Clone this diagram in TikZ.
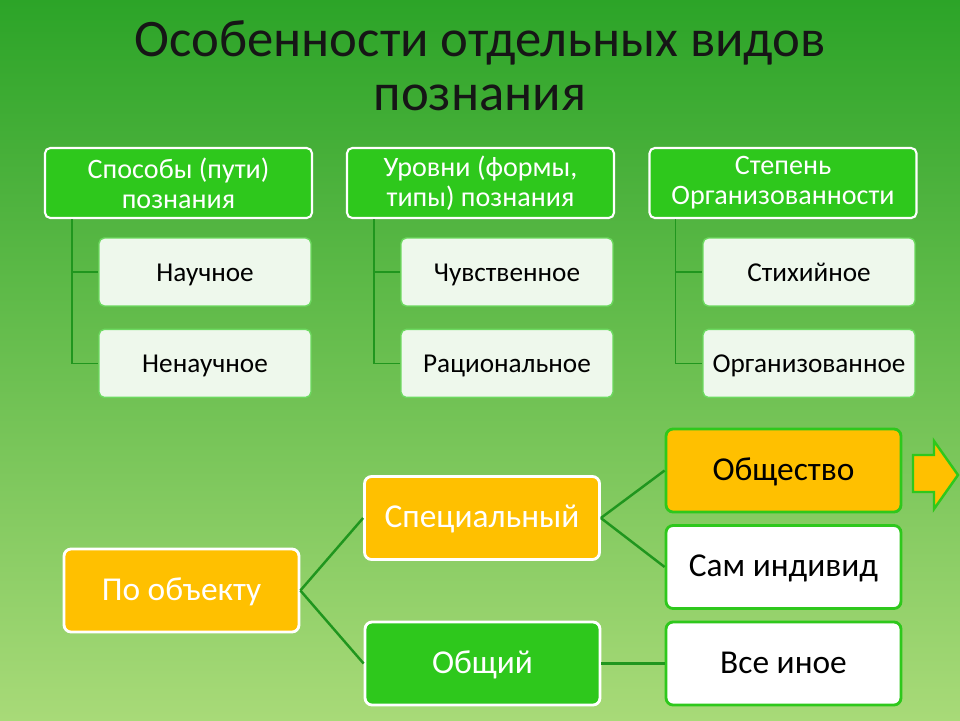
\documentclass[tikz,border=0pt]{standalone}
\usepackage{fontspec}
\setmainfont{Carlito}
\usepackage{xcolor}
\usetikzlibrary{positioning,calc}
\definecolor{bgtop}{RGB}{44,164,40}
\definecolor{bgbottom}{RGB}{168,218,120}
\definecolor{headgreen}{RGB}{46,200,28}
\definecolor{leaffill}{RGB}{238,248,236}
\definecolor{treegreen}{RGB}{32,150,30}
\definecolor{amber}{RGB}{255,192,0}
\definecolor{titleink}{RGB}{22,22,22}

\tikzset{
  headbox/.style={draw=white, line width=1.2pt, rounded corners=3pt, fill=headgreen, text=white,
    minimum width=5.34cm, minimum height=1.4cm, align=center, font=\fontsize{16}{17}\selectfont},
  leafbox/.style={draw=headgreen!70, line width=0.8pt, rounded corners=3pt, fill=leaffill, text=black,
    minimum width=4.24cm, minimum height=1.36cm, text height=2.4ex, text depth=0.2ex,
    font=\fontsize{15.5}{18}\selectfont},
  bigbox/.style={line width=1.6pt, rounded corners=4pt, minimum width=4.7cm, minimum height=1.66cm,
    text height=2.5ex, text depth=0.2ex, font=\fontsize{19}{22}\selectfont},
  warmbox/.style={bigbox, draw=white, fill=amber, text=white},
  greenbox/.style={bigbox, draw=white, fill=headgreen, text=white},
  endbox/.style={bigbox, draw=headgreen, fill=white, text=black},
  treeline/.style={draw=treegreen, line width=1pt},
  branch/.style={draw=treegreen, line width=1.4pt}
}

\begin{document}
\begin{tikzpicture}[x=0.02cm, y=-0.02cm]
  \useasboundingbox (0,0) rectangle (960,720);
  \shade[top color=bgtop, bottom color=bgbottom] (0,0) rectangle (960,720);

  % title
  \node[text=titleink, align=center, font=\fontsize{30}{31}\selectfont] (title) at (480,66)
    {Особенности отдельных видов\\познания};

  % three groups with their children
  \node[headbox] (ways) at (178.5,183) {Способы (пути)\\познания};
  \node[leafbox] (sci) at (205,272) {Научное};
  \node[leafbox, below=0.44cm of sci] (nonsci) {Ненаучное};

  \node[headbox] (levels) at (480.5,183) {Уровни (формы,\\типы) познания};
  \node[leafbox] (sense) at (507,272) {Чувственное};
  \node[leafbox, below=0.44cm of sense] (ratio) {Рациональное};

  \node[headbox] (degree) at (783,183) {Степень\\Организованности};
  \node[leafbox] (spont) at (809,272) {Стихийное};
  \node[leafbox, below=0.44cm of spont] (organ) {Организованное};

  \draw[treeline] ($(ways.south west)+(28,0)$) |- (sci.west);
  \draw[treeline] ($(ways.south west)+(28,0)$) |- (nonsci.west);
  \draw[treeline] ($(levels.south west)+(28,0)$) |- (sense.west);
  \draw[treeline] ($(levels.south west)+(28,0)$) |- (ratio.west);
  \draw[treeline] ($(degree.south west)+(27,0)$) |- (spont.west);
  \draw[treeline] ($(degree.south west)+(27,0)$) |- (organ.west);

  % by object
  \node[warmbox] (obj) at (181.5,590.5) {По объекту};
  \node[warmbox] (spec) at (482,518) {Специальный};
  \node[greenbox] (gen) at (482.5,663.5) {Общий};
  \node[endbox, fill=amber] (soc) at (783.5,470.5) {Общество};
  \node[endbox] (ind) at (783.5,567) {Сам индивид};
  \node[endbox] (other) at (783.5,663.5) {Все иное};

  \draw[branch] (obj.east) -- (spec.west);
  \draw[branch] (obj.east) -- (gen.west);
  \draw[branch] (spec.east) -- (soc.west);
  \draw[branch] (spec.east) -- (ind.west);
  \draw[branch] (gen.east) -- (other.west);

  % arrow at the edge
  \draw[draw=headgreen, line width=1.4pt, fill=amber]
    (913,455) -- (934,455) -- (934,441) -- (958,475) -- (934,509) -- (934,492) -- (913,492) -- cycle;
\end{tikzpicture}
\end{document}
